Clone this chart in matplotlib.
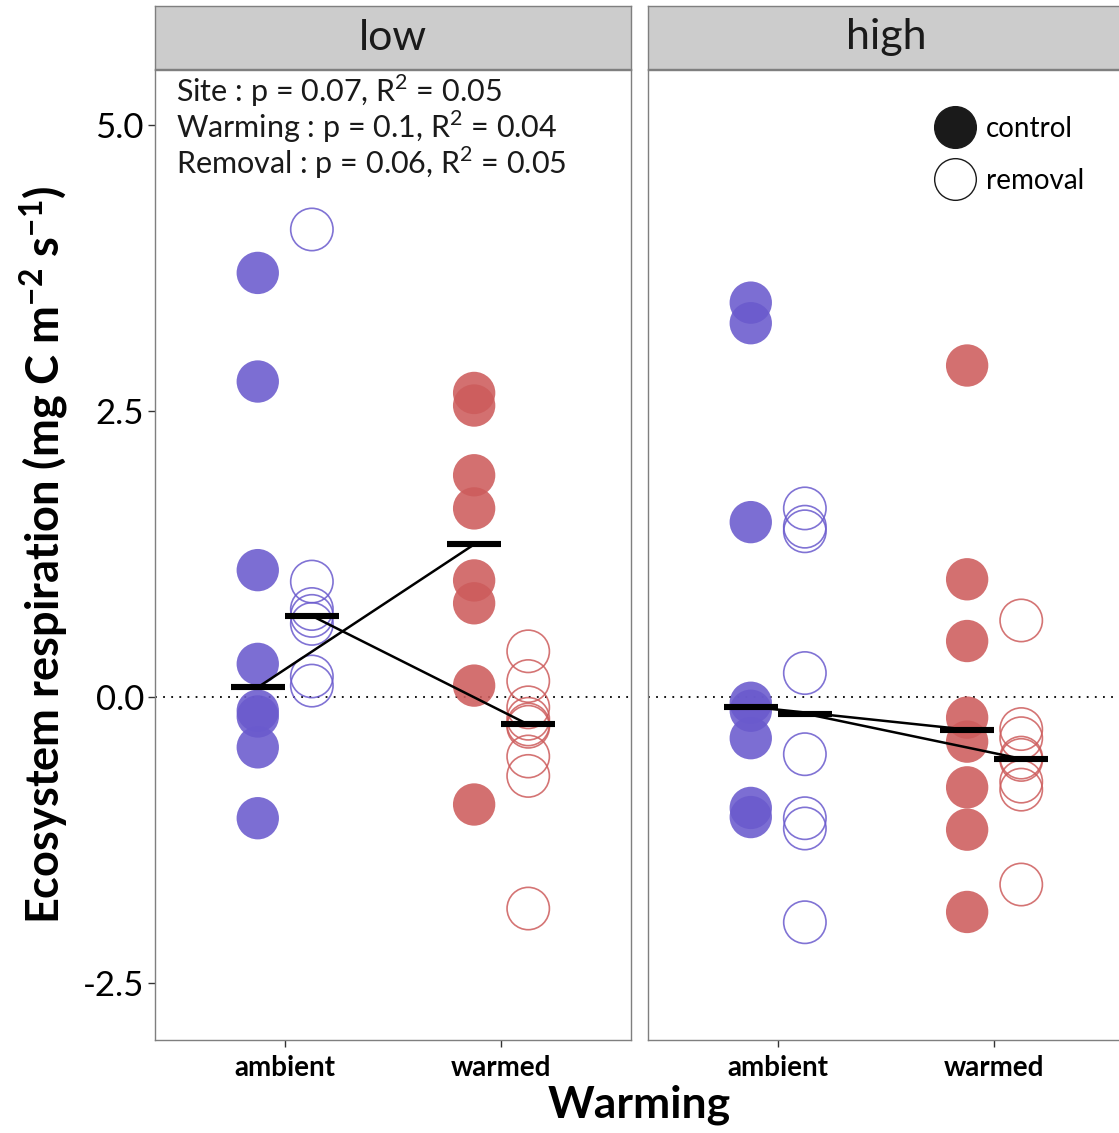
import numpy as np
import matplotlib
matplotlib.use("Agg")
import matplotlib.pyplot as plt
from matplotlib.lines import Line2D

plt.rcParams['font.family'] = ['Lato', 'DejaVu Sans']
plt.rcParams['mathtext.fontset'] = 'custom'
plt.rcParams['mathtext.rm'] = 'Lato'
plt.rcParams['mathtext.bf'] = 'Lato:bold'

# ---- data -------------------------------------------------------------
sites = ["low", "high"]
warming_levels = ["ambient", "warmed"]
removal_levels = ["control", "removal"]

low_ambient_control = [3.71, 2.76, 1.11, 0.29, -0.12, -0.17, -0.44, -1.06]
low_ambient_removal = [4.09, 1.01, 0.77, 0.71, 0.64, 0.18, 0.10]
low_warmed_control = [2.66, 2.55, 1.94, 1.65, 1.02, 0.82, 0.10, -0.94]
low_warmed_removal = [0.40, 0.14, -0.09, -0.19, -0.24, -0.26, -0.52, -0.69, -1.85]
high_ambient_control = [3.45, 3.27, 1.53, -0.05, -0.12, -0.36, -0.97, -1.05]
high_ambient_removal = [1.65, 1.49, 1.45, 0.21, -0.50, -1.06, -1.15, -1.97]
high_warmed_control = [2.90, 1.03, 0.49, -0.18, -0.39, -0.79, -1.16, -1.88]
high_warmed_removal = [0.67, -0.28, -0.36, -0.53, -0.55, -0.74, -0.81, -1.64]

stats_lines = [
    r"Site : p = 0.07, R$^2$ = 0.05",
    r"Warming : p = 0.1, R$^2$ = 0.04",
    r"Removal : p = 0.06, R$^2$ = 0.05",
]

data = {
    ("low", "ambient", "control"): low_ambient_control,
    ("low", "ambient", "removal"): low_ambient_removal,
    ("low", "warmed", "control"): low_warmed_control,
    ("low", "warmed", "removal"): low_warmed_removal,
    ("high", "ambient", "control"): high_ambient_control,
    ("high", "ambient", "removal"): high_ambient_removal,
    ("high", "warmed", "control"): high_warmed_control,
    ("high", "warmed", "removal"): high_warmed_removal,
}

warm_colors = {"ambient": "#6A5ACD", "warmed": "#CD5C5C"}
dodge = {"control": -0.125, "removal": 0.125}

# ---- layout (pixel based) ---------------------------------------------
W, H = 1119, 1133
fig = plt.figure(figsize=(W / 100, H / 100), dpi=100)


def px_axes(x0, y0, x1, y1):
    return fig.add_axes([x0 / W, 1 - y1 / H, (x1 - x0) / W, (y1 - y0) / H])


panel_x = [(155, 631), (648, 1124)]
top, bottom = 70, 1040
strip_top = 6

ymin, ymax = -3.0, 5.485
for i, site in enumerate(sites):
    x0, x1 = panel_x[i]
    ax = px_axes(x0, top, x1, bottom)
    ax.set_xlim(0.4, 2.6)
    ax.set_ylim(ymin, ymax)
    ax.axhline(0, color="black", lw=1.3, ls=(0, (1, 3.5)), zorder=1)

    for rem in removal_levels:
        medians = []
        xs = []
        for j, wl in enumerate(warming_levels):
            vals = np.array(data[(site, wl, rem)])
            xpos = j + 1 + dodge[rem]
            col = warm_colors[wl]
            if rem == "control":
                ax.scatter(np.full(len(vals), xpos), vals, s=930, color=col,
                           alpha=0.88, edgecolors="none", zorder=2)
            else:
                ax.scatter(np.full(len(vals), xpos), vals, s=930,
                           facecolors="none", edgecolors=col, alpha=0.85,
                           linewidths=1.2, zorder=2)
            med = np.median(vals)
            medians.append(med)
            xs.append(xpos)
            ax.plot([xpos - 0.125, xpos + 0.125], [med, med], color="black",
                    lw=4.4, solid_capstyle="butt", zorder=4)
        ax.plot(xs, medians, color="black", lw=1.8, zorder=3)

    for sp in ax.spines.values():
        sp.set_color("#7f7f7f")
        sp.set_linewidth(1.0)
    ax.set_xticks([1, 2])
    ax.set_xticklabels(warming_levels, fontsize=20, fontweight="bold")
    ax.tick_params(axis="x", length=5, width=1, color="#333333", pad=6)
    if i == 0:
        ax.set_yticks([-2.5, 0.0, 2.5, 5.0])
        ax.set_yticklabels(["-2.5", "0.0", "2.5", "5.0"], fontsize=25)
        ax.tick_params(axis="y", length=5, width=1, color="#333333", pad=3)
    else:
        ax.set_yticks([])

    # facet strip
    sax = px_axes(x0, strip_top, x1, top - 1)
    sax.set_facecolor("#cccccc")
    sax.set_xticks([])
    sax.set_yticks([])
    for sp in sax.spines.values():
        sp.set_color("#7f7f7f")
        sp.set_linewidth(1.0)
    sax.text(0.5, 0.5, site, ha="center", va="center", fontsize=31,
             color="#1a1a1a", transform=sax.transAxes)

    if i == 0:
        for k, line in enumerate(stats_lines):
            ax.text(0.045, 0.979 - k * 0.0375, line, transform=ax.transAxes,
                    fontsize=22, va="center", ha="left", color="#1a1a1a")
    else:
        handles = [
            Line2D([], [], marker="o", ls="none", markersize=30,
                   markerfacecolor="#1a1a1a", markeredgecolor="#1a1a1a"),
            Line2D([], [], marker="o", ls="none", markersize=30,
                   markerfacecolor="white", markeredgecolor="#1a1a1a",
                   markeredgewidth=1.0),
        ]
        ax.legend(handles, removal_levels, loc="upper left",
                  bbox_to_anchor=(0.558, 0.973), frameon=False, fontsize=20,
                  handletextpad=0.3, labelspacing=0.95, borderpad=0.2,
                  handlelength=1.6)

fig.text(639 / W, 1 - 1105 / H, "Warming", ha="center", va="center",
         fontsize=32, fontweight="bold")
fig.text(44 / W, 1 - 555 / H,
         r"Ecosystem respiration (mg C m$^{\mathbf{-2}}$ s$^{\mathbf{-1}}$)",
         ha="center", va="center", rotation=90, fontsize=32.5,
         fontweight="bold")

fig.savefig("out.png", dpi=100)
